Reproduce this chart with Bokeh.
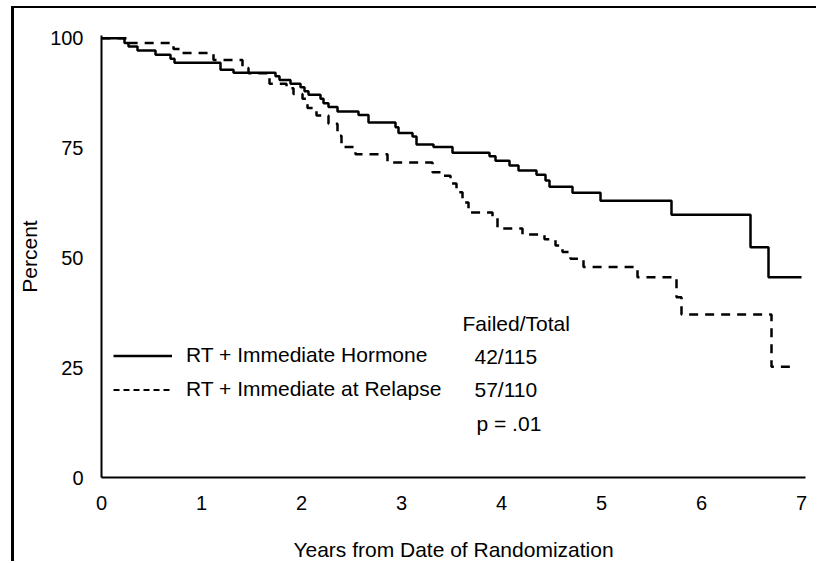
from bokeh.plotting import figure
from bokeh.models import (Range1d, Label, Legend, LegendItem,
                          ColumnDataSource, FixedTicker)
from bokeh.embed import file_html
from bokeh.resources import INLINE

# ---- data ----
hormone_t = [0, 0.23, 0.27, 0.36, 0.54, 0.69, 0.73, 1.19, 1.32, 1.74, 1.78, 1.89,
             1.99, 2.03, 2.07, 2.19, 2.22, 2.27, 2.36, 2.57, 2.67, 2.94, 2.97,
             3.11, 3.15, 3.32, 3.51, 3.88, 3.94, 4.08, 4.17, 4.35, 4.44, 4.48,
             4.71, 4.99, 5.70, 6.49, 6.67, 7.00]
hormone_v = [100, 98.9, 98.1, 97.2, 96.2, 95.3, 94.4, 92.8, 92.1, 91.3, 90.5, 89.6,
             88.8, 87.9, 87.1, 86.2, 85.2, 84.3, 83.3, 82.5, 80.8, 79.7, 78.4,
             77.6, 75.8, 75.2, 73.9, 73.1, 72.1, 71.0, 69.9, 68.9, 67.6, 66.2,
             64.8, 63.0, 59.8, 52.4, 45.6, 45.6]

relapse_t = [0, 0.26, 0.72, 0.80, 1.12, 1.41, 1.47, 1.68, 1.85, 1.92, 2.01, 2.06,
             2.15, 2.27, 2.36, 2.40, 2.54, 2.86, 3.31, 3.40, 3.49, 3.55, 3.61,
             3.67, 3.91, 3.96, 4.21, 4.43, 4.54, 4.61, 4.69, 4.82, 5.36, 5.75,
             5.80, 6.70, 6.95]
relapse_v = [100, 98.9, 97.5, 96.6, 95.0, 93.2, 92.0, 89.6, 88.6, 87.3, 86.2, 84.1,
             82.4, 80.5, 77.8, 75.2, 73.6, 71.7, 69.5, 68.7, 66.9, 64.9, 62.6,
             60.3, 59.2, 56.7, 55.3, 54.2, 52.8, 51.3, 49.8, 47.9, 45.6, 41.0,
             37.1, 25.2, 25.2]

series_labels = ["RT + Immediate Hormone", "RT + Immediate at Relapse"]
failed_total = ["42/115", "57/110"]
p_value = "p = .01"
x_ticks = [0, 1, 2, 3, 4, 5, 6, 7]
y_ticks = [0, 25, 50, 75, 100]

FONT = "Liberation Sans"

p = figure(width=805, height=555, output_backend="svg", toolbar_location=None,
           x_range=Range1d(0, 7.04), y_range=Range1d(0, 100.6),
           min_border_left=87, min_border_right=14, min_border_top=27,
           min_border_bottom=86, background_fill_color="white",
           border_fill_color="white",
           styles={"margin-left": "11px", "margin-top": "6px",
                   "border-left": "3px solid black",
                   "border-top": "2px solid black"})
p.outline_line_color = None
p.grid.visible = False

for ax in (p.xaxis, p.yaxis):
    ax.axis_line_width = 2
    ax.axis_line_color = "black"
    ax.major_tick_line_color = None
    ax.minor_tick_line_color = None
    ax.major_label_text_font = FONT
    ax.major_label_text_font_size = "20px"
    ax.major_label_text_color = "black"
    ax.axis_label_text_font = FONT
    ax.axis_label_text_font_size = "21px"
    ax.axis_label_text_font_style = "normal"
    ax.axis_label_text_color = "black"
    ax.major_label_standoff = 12

p.xaxis.ticker = FixedTicker(ticks=x_ticks)
p.yaxis.ticker = FixedTicker(ticks=y_ticks)
p.xaxis.axis_label = "Years from Date of Randomization"
p.yaxis.axis_label = "Percent"
p.xaxis.axis_label_standoff = 25
p.yaxis.axis_label_standoff = 6

src_h = ColumnDataSource(dict(t=hormone_t, v=hormone_v))
src_r = ColumnDataSource(dict(t=relapse_t, v=relapse_v))
p.step(x="t", y="v", source=src_h, mode="after", line_color="black", line_width=2.5)
p.step(x="t", y="v", source=src_r, mode="after", line_color="black", line_width=2.5,
       line_dash="9 7")

# legend-only renderers (finer dash in the key, as in the reference); NaN = no mark
nan = float("nan")
leg_h = p.line(x=[nan], y=[nan], line_color="black", line_width=2.5)
leg_r = p.line(x=[nan], y=[nan], line_color="black", line_width=2, line_dash="6 4")

legend = Legend(items=[LegendItem(label=series_labels[0], renderers=[leg_h]),
                       LegendItem(label=series_labels[1], renderers=[leg_r])],
                location=(12, 76), glyph_width=59, glyph_height=23, label_height=23,
                spacing=10, padding=0, margin=0, border_line_color=None,
                background_fill_alpha=0, label_standoff=14,
                label_text_font=FONT, label_text_font_size="21px",
                label_text_color="black")
p.add_layout(legend)

def add_text(x, y, s):
    p.add_layout(Label(x=x, y=y, text=s, text_baseline="middle", text_align="left",
                       text_font=FONT, text_font_size="21px", text_color="black"))

add_text(3.61, 35.0, "Failed/Total")
add_text(3.73, 27.5, failed_total[0])
add_text(3.73, 20.0, failed_total[1])
add_text(3.75, 12.3, p_value)

open("out.html", "w").write(file_html(p, INLINE))
